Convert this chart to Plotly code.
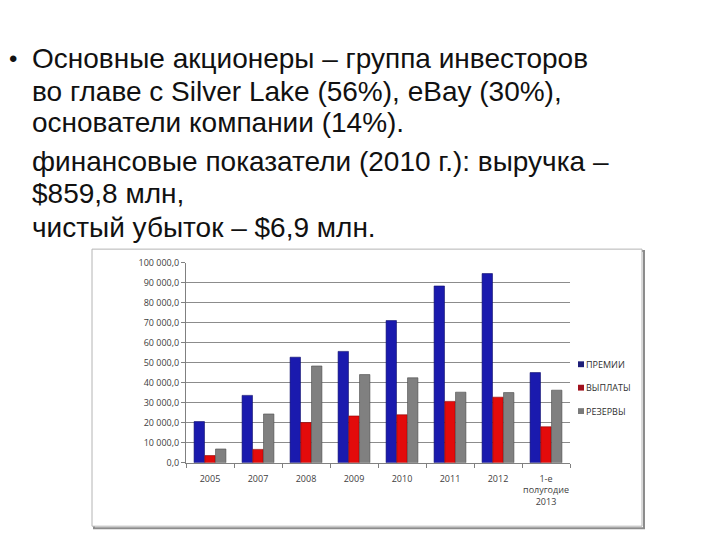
import plotly.graph_objects as go

categories = ["2005", "2007", "2008", "2009", "2010", "2011", "2012", "1-е<br>полугодие<br>2013"]
premii = [20600, 33700, 52800, 55700, 71100, 88400, 94600, 45100]
vyplaty = [3600, 6700, 20100, 23400, 24000, 30700, 32800, 18000]
rezervy = [6900, 24400, 48400, 44100, 42500, 35300, 35100, 36300]
series_names = ["ПРЕМИИ", "ВЫПЛАТЫ", "РЕЗЕРВЫ"]
tick_vals = [0, 10000, 20000, 30000, 40000, 50000, 60000, 70000, 80000, 90000, 100000]
tick_text = ["0,0", "10 000,0", "20 000,0", "30 000,0", "40 000,0", "50 000,0",
             "60 000,0", "70 000,0", "80 000,0", "90 000,0", "100 000,0"]
text_lines = [
    "Основные акционеры – группа инвесторов",
    "во главе с Silver Lake (56%), eBay (30%),",
    "основатели компании (14%).",
    "финансовые показатели (2010 г.): выручка –",
    "$859,8 млн,",
    "чистый убыток – $6,9 млн.",
]

OFF = 8  # page body margin
W, H = 712, 532
def px(x):
    return (x - OFF) / W
def py(y):
    return 1 - (y - OFF) / H

fig = go.Figure()
colors = ["#1a1aae", "#e30b0b", "#808080"]
edges = ["#0c0c6a", "#8a0000", "#4a4a4a"]
legend_colors = ["#1e1e78", "#a0101c", "#7a7a7a"]
for name, vals, c, e in zip(series_names, [premii, vyplaty, rezervy], colors, edges):
    fig.add_trace(go.Bar(x=categories, y=vals, name=name, showlegend=False,
                         marker=dict(color=c, line=dict(color=e, width=0.6))))

shapes = [
    dict(type="rect", xref="paper", yref="paper", x0=px(94), x1=px(644), y0=py(534), y1=py(250),
         line=dict(color="#8c8c8c", width=2), fillcolor="rgba(0,0,0,0)", layer="below"),
    dict(type="rect", xref="paper", yref="paper", x0=px(92), x1=px(642), y0=py(532), y1=py(248),
         line=dict(color="#b4b4b4", width=1), fillcolor="white", layer="below"),
]

annotations = []
line_y = [53, 86, 118, 158, 191, 226]
for t, y in zip(text_lines, line_y):
    annotations.append(dict(text=t, xref="paper", yref="paper", x=px(30), y=py(y),
                            xanchor="left", yanchor="middle", showarrow=False,
                            font=dict(family="Liberation Sans, Arial", size=28, color="#111111")))
annotations.append(dict(text="•", xref="paper", yref="paper", x=px(7), y=py(53),
                        xanchor="left", yanchor="middle", showarrow=False,
                        font=dict(family="Liberation Sans, Arial", size=24, color="#111111")))

# legend (series names next to small colour squares)
leg_y = [366, 390, 414]
for name, c, y in zip(series_names, legend_colors, leg_y):
    shapes.append(dict(type="rect", xref="paper", yref="paper", x0=px(578), x1=px(584),
                       y0=py(y + 3), y1=py(y - 3), line=dict(width=0), fillcolor=c))
    annotations.append(dict(text=name, xref="paper", yref="paper", x=px(584), y=py(y),
                            xanchor="left", yanchor="middle", showarrow=False,
                            font=dict(family="Open Sans, DejaVu Sans", size=9, color="#303030")))

fig.update_layout(
    width=W, height=H,
    margin=dict(l=0, r=0, t=0, b=0),
    paper_bgcolor="white", plot_bgcolor="rgba(0,0,0,0)",
    barmode="group", bargap=0.33, bargroupgap=0.03,
    shapes=shapes, annotations=annotations, showlegend=False,
    font=dict(family="Open Sans, DejaVu Sans", size=9, color="#404040"),
    xaxis=dict(domain=[px(186), px(570)], showgrid=False, showline=True,
               linecolor="#808080", ticks="outside", tickson="boundaries",
               ticklen=4, tickcolor="#808080", ticklabelstandoff=7, tickangle=0,
               tickfont=dict(size=9, color="#404040")),
    yaxis=dict(domain=[py(467), py(262)], range=[0, 100000], tickvals=tick_vals,
               ticktext=tick_text, showgrid=True, gridcolor="#8c8c8c", gridwidth=1,
               showline=True, linecolor="#808080", ticks="outside", ticklen=4,
               tickcolor="#808080", zeroline=False, tickfont=dict(size=9, color="#404040")),
)

fig.write_html("out.html")
